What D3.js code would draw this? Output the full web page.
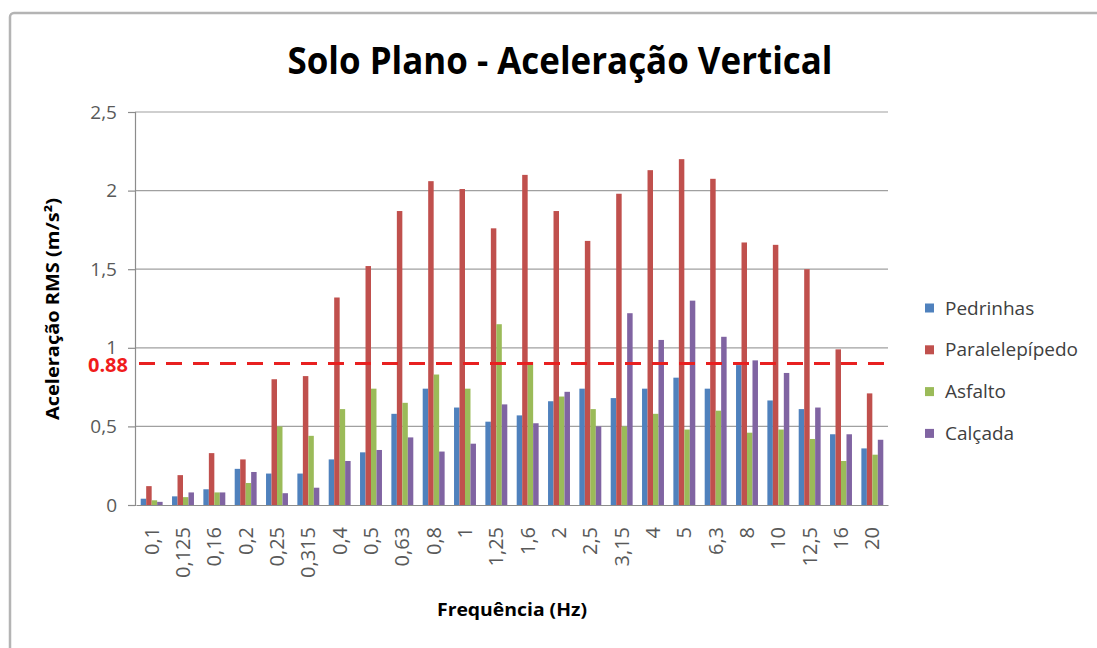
<!DOCTYPE html>
<html>
<head>
<meta charset="utf-8">
<script src="https://cdn.jsdelivr.net/npm/d3@7"></script>
<style>
  html, body { margin: 0; padding: 0; background: #ffffff; }
  svg { display: block; }
</style>
</head>
<body>
<script>
// ---------- DATA ----------
const title = "Solo Plano - Aceleração Vertical";
const yTitle = "Aceleração RMS (m/s²)";
const xTitle = "Frequência (Hz)";
const categories = ["0,1","0,125","0,16","0,2","0,25","0,315","0,4","0,5","0,63","0,8","1","1,25","1,6","2","2,5","3,15","4","5","6,3","8","10","12,5","16","20"];
const seriesNames = ["Pedrinhas","Paralelepípedo","Asfalto","Calçada"];
const pedrinhas      = [0.04,0.055,0.10,0.23,0.20,0.20,0.29,0.335,0.58,0.74,0.62,0.53,0.57,0.66,0.74,0.68,0.74,0.81,0.74,0.89,0.665,0.61,0.45,0.36];
const paralelepipedo = [0.12,0.19,0.33,0.29,0.80,0.82,1.32,1.52,1.87,2.06,2.01,1.76,2.10,1.87,1.68,1.98,2.13,2.20,2.075,1.67,1.655,1.50,0.99,0.71];
const asfalto        = [0.03,0.05,0.08,0.14,0.50,0.44,0.61,0.74,0.65,0.83,0.74,1.15,0.91,0.69,0.61,0.50,0.58,0.48,0.60,0.46,0.48,0.42,0.28,0.32];
const calcada        = [0.02,0.08,0.08,0.21,0.075,0.11,0.28,0.35,0.43,0.34,0.39,0.64,0.52,0.72,0.50,1.22,1.05,1.30,1.07,0.92,0.84,0.62,0.45,0.415];
const yTicks = [0, 0.5, 1, 1.5, 2, 2.5];
const refLineValue = 0.9;
const refLabel = "0.88";
const colors = ["#4F81BD","#C0504D","#9BBB59","#8064A2"];

// ---------- LAYOUT ----------
const W = 1097, H = 648;
const plot = { left: 136, right: 888, top: 112, bottom: 505 };
const font = "'Open Sans', 'DejaVu Sans', sans-serif";

const seriesValues = [pedrinhas, paralelepipedo, asfalto, calcada];
const rows = categories.map((c, i) => ({
  cat: c,
  vals: seriesNames.map((s, k) => ({ key: s, value: seriesValues[k][i], color: colors[k] }))
}));

const svg = d3.select("body").append("svg").attr("width", W).attr("height", H);
svg.append("rect").attr("width", W).attr("height", H).attr("fill", "#ffffff");

// chart border (runs off right and bottom edges)
svg.append("rect")
  .attr("x", 10).attr("y", 13).attr("width", 1300).attr("height", 900)
  .attr("rx", 4)
  .attr("fill", "#ffffff").attr("stroke", "#b4b4b4").attr("stroke-width", 2.5);

const x0 = d3.scaleBand().domain(categories).range([plot.left, plot.right])
  .paddingInner(0.3).paddingOuter(0.15);
const x1 = d3.scaleBand().domain(seriesNames).range([0, x0.bandwidth()]).padding(0);
const y = d3.scaleLinear().domain([0, 2.5]).range([plot.bottom, plot.top]);

// gridlines
svg.append("g").selectAll("line").data(yTicks.filter(d => d > 0)).join("line")
  .attr("x1", plot.left - 1).attr("x2", plot.right)
  .attr("y1", d => y(d)).attr("y2", d => y(d))
  .attr("stroke", "#a0a0a0").attr("stroke-width", 1.2);

// y axis
const fmt = d => String(d).replace(".", ",");
const yAxis = svg.append("g").attr("transform", `translate(${plot.left - 1},0)`)
  .call(d3.axisLeft(y).tickValues(yTicks).tickFormat(fmt).tickSize(7).tickPadding(11));
yAxis.select(".domain").attr("stroke", "#8c8c8c").attr("stroke-width", 1.2);
yAxis.selectAll(".tick line").attr("stroke", "#8c8c8c").attr("stroke-width", 1.2);
yAxis.selectAll("text").attr("font-family", font).attr("font-size", 19).attr("fill", "#595959");

// bars
const groups = svg.append("g").selectAll("g").data(rows).join("g")
  .attr("transform", d => `translate(${x0(d.cat)},0)`);
groups.selectAll("rect").data(d => d.vals).join("rect")
  .attr("x", d => x1(d.key))
  .attr("width", x1.bandwidth())
  .attr("y", d => y(d.value))
  .attr("height", d => y(0) - y(d.value))
  .attr("fill", d => d.color);

// x axis
const xAxis = svg.append("g").attr("transform", `translate(0,${plot.bottom})`)
  .call(d3.axisBottom(x0).tickSize(0));
xAxis.select(".domain").attr("stroke", "#8c8c8c").attr("stroke-width", 1.2);
xAxis.selectAll("text")
  .attr("font-family", font).attr("font-size", 20).attr("fill", "#595959")
  .attr("transform", "rotate(-90)")
  .attr("x", -22).attr("y", 0).attr("dy", "0.35em")
  .style("text-anchor", "end");

// reference dashed line
svg.append("line")
  .attr("x1", plot.left + 3).attr("x2", plot.right + 2)
  .attr("y1", y(refLineValue)).attr("y2", y(refLineValue))
  .attr("stroke", "#e82020").attr("stroke-width", 3.2)
  .attr("stroke-dasharray", "16,11");
svg.append("text")
  .attr("x", 128).attr("y", y(refLineValue) + 1.5).attr("dy", "0.36em")
  .attr("text-anchor", "end")
  .attr("font-family", font).attr("font-weight", "bold").attr("font-size", 20)
  .attr("fill", "#f01c1c")
  .text(refLabel);

// title
svg.append("text")
  .attr("x", 560).attr("y", 74).attr("text-anchor", "middle")
  .attr("font-family", font).attr("font-weight", "bold").attr("font-size", 37)
  .attr("fill", "#000000")
  .attr("textLength", 545).attr("lengthAdjust", "spacingAndGlyphs")
  .text(title);

// y axis title
svg.append("text")
  .attr("transform", "translate(53,309) rotate(-90)")
  .attr("text-anchor", "middle").attr("dy", "0.35em")
  .attr("font-family", font).attr("font-weight", "bold").attr("font-size", 18)
  .attr("fill", "#000000")
  .attr("textLength", 222).attr("lengthAdjust", "spacingAndGlyphs")
  .text(yTitle);

// x axis title
svg.append("text")
  .attr("x", 512).attr("y", 610).attr("dy", "0.35em").attr("text-anchor", "middle")
  .attr("font-family", font).attr("font-weight", "bold").attr("font-size", 18)
  .attr("fill", "#000000")
  .attr("textLength", 150).attr("lengthAdjust", "spacingAndGlyphs")
  .text(xTitle);

// legend
const legend = svg.append("g").selectAll("g").data(seriesNames).join("g")
  .attr("transform", (d, i) => `translate(925,${308 + i * 41.8})`);
legend.append("rect").attr("x", 0).attr("y", -4.5).attr("width", 9).attr("height", 9)
  .attr("fill", (d, i) => colors[i]);
legend.append("text").attr("x", 20).attr("dy", "0.35em")
  .attr("font-family", font).attr("font-size", 19).attr("fill", "#404040")
  .text(d => d);
</script>
</body>
</html>
